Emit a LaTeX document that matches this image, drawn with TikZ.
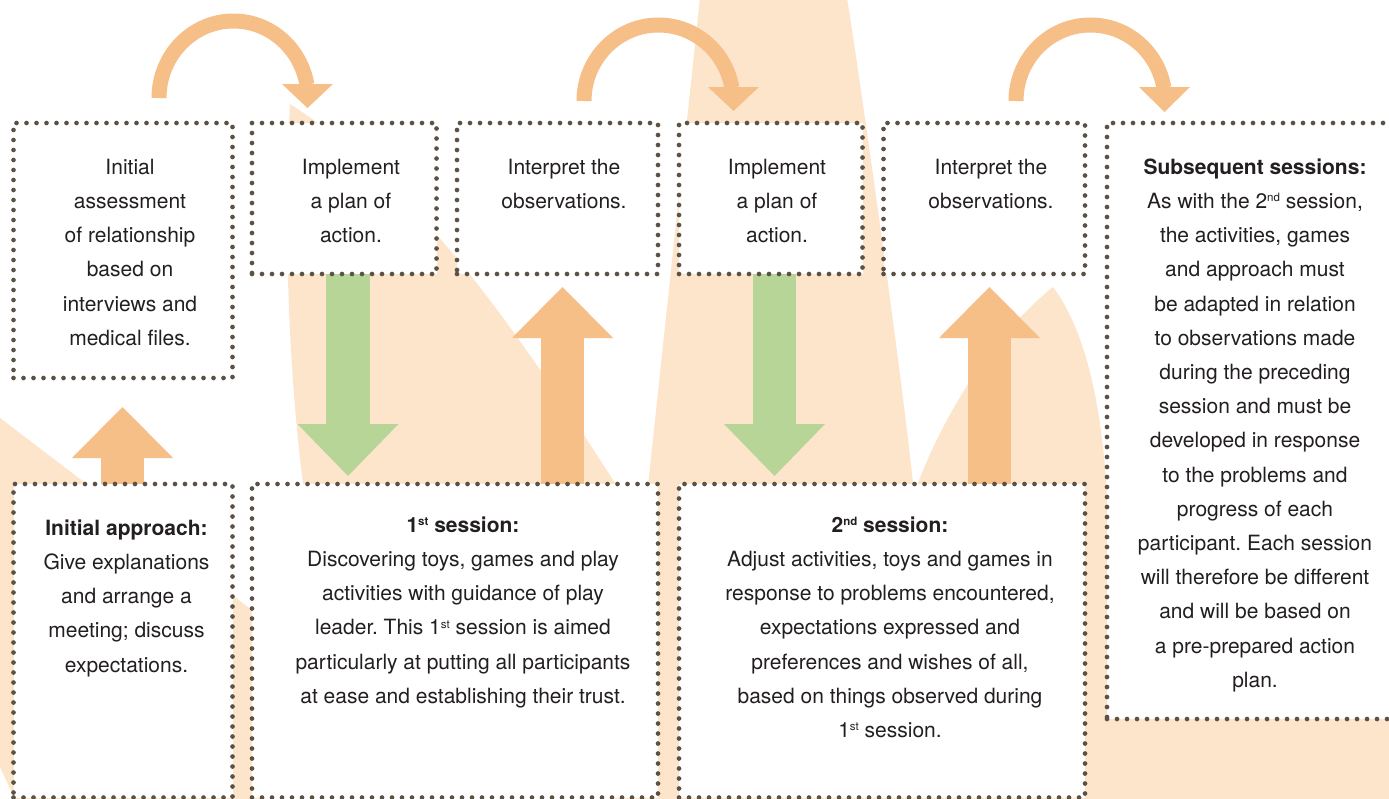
\documentclass[tikz,border=0pt]{standalone}
\usepackage{fontspec}
\setmainfont{TeX Gyre Heros}
\usetikzlibrary{calc,arrows.meta}
\frenchspacing
\definecolor{peach}{HTML}{FDE5CC}
\definecolor{orng}{HTML}{F6BF88}
\definecolor{grn}{HTML}{B8D598}
\definecolor{dotc}{HTML}{5B5145}
\definecolor{txtc}{HTML}{231F20}
\pgfdeclarelayer{bg}
\pgfdeclarelayer{arr}
\pgfsetlayers{bg,arr,main}
\newcommand\myss[1]{\raisebox{6.5pt}{\fontsize{11.5}{11.5}\selectfont #1}}
\newcommand\mystrut{\rule{0pt}{20pt}}
\tikzset{
  dotbox/.style={draw=dotc, line width=4.7pt, dash pattern=on 0pt off 10pt, line cap=round,
    fill=white, inner sep=0pt, outer sep=0pt, rectangle, anchor=north west},
  txt/.style={align=center, inner sep=0pt, anchor=north, text=txtc,
    font=\fontsize{21}{34.2}\selectfont},
  fatup/.style={orng, line width=43.5pt, -{Triangle[width=101pt,length=51pt,line width=0pt]}},
  fatdown/.style={grn, line width=43.5pt, -{Triangle[width=101pt,length=52pt,line width=0pt]}},
  curve/.style={orng, line width=15pt},
  head/.style={fill=orng}
}
\begin{document}
\frenchspacing
\begin{tikzpicture}[x=1pt,y=1pt]
\useasboundingbox (0,0) rectangle (1389,-798);
% boxes
\node[dotbox, minimum width=219pt, minimum height=255pt] (A) at (13.5,-123) {};
\node[dotbox, minimum width=184.5pt, minimum height=151pt] (B) at (252,-123) {};
\node[dotbox, minimum width=201pt, minimum height=151pt] (C) at (457,-123) {};
\node[dotbox, minimum width=183.5pt, minimum height=151pt] (D) at (679,-123) {};
\node[dotbox, minimum width=201.5pt, minimum height=151pt] (E) at (883.5,-123) {};
\node[dotbox, minimum width=300pt, minimum height=596pt] (F) at (1107,-123) {};
\node[dotbox, minimum width=219pt, minimum height=313.5pt] (G) at (13.5,-484) {};
\node[dotbox, minimum width=406pt, minimum height=313.5pt] (H) at (252,-484) {};
\node[dotbox, minimum width=406pt, minimum height=313.5pt] (I) at (679,-484) {};
% texts
\node[txt] (At) at (130,-154) {\mystrut Initial\\assessment\\of relationship\\based on\\interviews and\\medical files.};
\node[txt] (Bt) at (351,-154) {\mystrut Implement\\a plan of\\action.};
\node[txt] (Ct) at (564,-154) {\mystrut Interpret the\\observations.};
\node[txt] (Dt) at (777,-154) {\mystrut Implement\\a plan of\\action.};
\node[txt] (Et) at (991,-154) {\mystrut Interpret the\\observations.};
\node[txt] (Ft) at (1255,-154) {\mystrut\textbf{Subsequent sessions:}\\As with the 2\myss{nd} session,\\the activities, games\\and approach must\\be adapted in relation\\to observations made\\during the preceding\\session and must be\\developed in response\\to the problems and\\progress of each\\participant. Each session\\will therefore be different\\and will be based on\\a pre-prepared action\\plan.};
\node[txt] (Gt) at (126.5,-515) {\mystrut\textbf{Initial approach:}\\Give explanations\\and arrange a\\meeting; discuss\\expectations.};
\node[txt] (Ht) at (463,-512) {\mystrut\textbf{1\myss{st} session:}\\Discovering toys, games and play\\activities with guidance of play\\leader. This 1\myss{st} session is aimed\\particularly at putting all participants\\at ease and establishing their trust.};
\node[txt] (It) at (890,-512) {\mystrut\textbf{2\myss{nd} session:}\\Adjust activities, toys and games in\\response to problems encountered,\\expectations expressed and\\preferences and wishes of all,\\based on things observed during\\1\myss{st} session.};
% background shapes
\begin{pgfonlayer}{bg}
\fill[white] (0,0) rectangle (1389,-798);
\fill[peach] (0,-418) -- (265,-620) -- (265,-805) -- (18,-805) -- (0,-767) -- cycle;
\fill[peach] (290,-104) .. controls (420,-188) and (515,-328) .. (615,-483) -- (640,-520) -- (305,-520) -- (303,-483) .. controls (292,-400) and (282,-250) .. (290,-104) -- cycle;
\fill[peach] (700,2) -- (614,-805) -- (930,-805) -- (913,-483) .. controls (902.5,-383) and (863.4,-100) .. (847,2) -- cycle;
\fill[peach] (1053,-287) .. controls (1000,-330) and (950,-400) .. (918,-483) -- (905,-805) -- (1395,-805) -- (1395,-600) -- (1112,-600) -- (1106,-480) .. controls (1100,-400) and (1085,-330) .. (1053,-287) -- cycle;
\end{pgfonlayer}
% arrows
\begin{pgfonlayer}{arr}
\draw[fatup] ($(G.north)+(-0.5,0)$) -- ($(A.south)+(-0.5,-29)$);
\draw[fatdown] ($(B.south)+(3.75,0)$) -- ($(B.south)+(3.75,-202)$);
\draw[fatup] ($(C.south |- H.north)+(5,0)$) -- ($(C.south)+(5,-13)$);
\draw[fatdown] ($(D.south)+(3.75,0)$) -- ($(D.south)+(3.75,-202)$);
\draw[fatup] ($(E.south |- I.north)+(5.25,0)$) -- ($(E.south)+(5.25,-13)$);
% curved arrows
\draw[curve] ($(A.north)+(36,25)$) arc[start angle=180, end angle=10, x radius=74.5pt, y radius=77pt];
\fill[head] ($(B.north)+(-62.25,39)$) -- ++(51,0) -- ($(B.north)+(-36.75,15)$) -- cycle;
\draw[curve] ($(C.north)+(26.5,22)$) arc[start angle=180, end angle=10, x radius=74.5pt, y radius=76pt];
\fill[head] ($(D.north)+(-62.75,36)$) -- ++(51,0) -- ($(D.north)+(-37.25,12)$) -- cycle;
\draw[curve] ($(E.north)+(31.75,22)$) arc[start angle=180, end angle=10, x radius=74.5pt, y radius=76pt];
\fill[head] ($(F.north west)+(32,36)$) -- ++(51,0) -- ($(F.north west)+(57.5,11)$) -- cycle;
\end{pgfonlayer}
\end{tikzpicture}
\end{document}
